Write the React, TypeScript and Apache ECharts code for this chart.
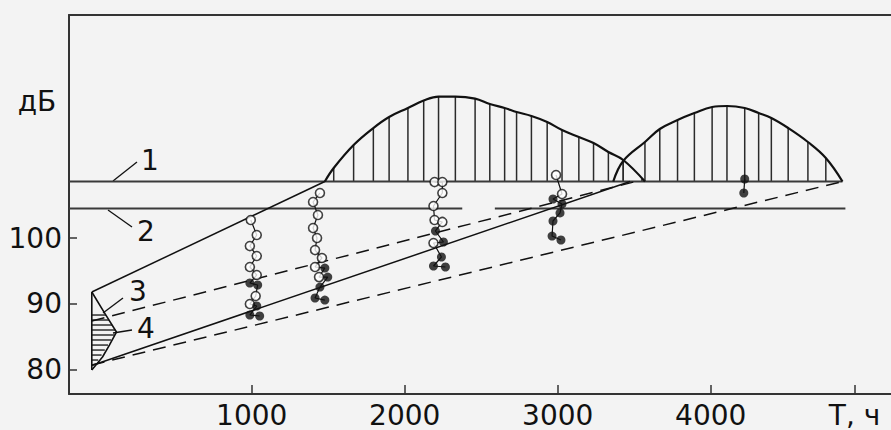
import React, { useEffect, useRef } from "react";
import * as echarts from "echarts";

// ---- axis ticks ----
const xTickValues = [1000, 2000, 3000, 4000, 4940];
const xTickLabels = ["1000", "2000", "3000", "4000", "T, ч"];
const yTickValues = [80, 90, 100];
const yTickLabels = ["80", "90", "100"];

// ---- horizontal levels (dB) : 1 and 2 ----
const level1 = 108.6;
const level2 = 104.5;
const level1Segments = [[-194, 4861]];
const level2Segments = [[-194, 2376], [2589, 4880]];

// ---- humps (T, dB) ----
const hump1 = [
  [1478, 108.6], [1536, 110.65], [1666, 114.15], [1795, 116.74], [1898, 118.42],
  [2021, 119.79], [2124, 120.92], [2221, 121.53], [2331, 121.53], [2460, 121.22],
  [2556, 120.39], [2653, 119.79], [2731, 119.18], [2828, 118.57], [2931, 117.66],
  [3028, 116.44], [3138, 115.37], [3234, 114.46], [3331, 113.09], [3428, 111.87],
  [3570, 108.6],
];
const hump2 = [
  [3363, 108.6], [3428, 111.72], [3570, 114.61], [3667, 116.59], [3783, 117.96],
  [3893, 119.02], [4009, 119.94], [4106, 120.09], [4222, 119.79], [4313, 119.02],
  [4396, 118.26], [4506, 116.74], [4635, 114.61], [4752, 112.18], [4861, 108.6],
];

// ---- sloped trend lines ----
const lineUpperSolid = [[-45, 91.78], [1478, 108.6]];
const lineLowerSolid = [[-45, 80.6], [3473, 108.6]];
const lineUpperDashed = [[-45, 87.37], [3560, 108.9]];
const lineLowerDashed = [[-45, 80.67], [4861, 108.6]];

// ---- initial distribution (3, 4) ----
const distOutline = [
  [-45, 91.78], [39, 88.58], [116, 85.69], [70, 83.71], [25, 81.89], [-45, 79.91],
];
const distEdge = [[-45, 79.91], [-45, 91.78]];
const distHatchV = [88.28, 87.52, 86.76, 86.0, 85.24, 84.48, 83.71, 82.95, 82.19, 81.43];
const distHatchRight = [48, 68, 88, 108, 103, 82, 61, 40, 19, -3];

// ---- measured points: open / filled circles ----
const col1Open = [[994, 102.74], [1033, 100.46], [988, 98.78], [1033, 97.26], [988, 95.59], [1033, 94.37], [1026, 91.17], [988, 89.96]];
const col1Filled = [[988, 93.15], [1039, 92.85], [1033, 89.65], [988, 88.28], [1052, 88.13]];
const col2Open = [[1446, 106.85], [1401, 105.48], [1433, 103.5], [1401, 101.52], [1427, 100.0], [1414, 98.17], [1459, 96.96], [1414, 95.59], [1440, 94.06]];
const col2Filled = [[1478, 95.43], [1497, 94.06], [1446, 92.54], [1414, 90.87], [1478, 90.56]];
const col3Open = [[2195, 108.52], [2246, 108.52], [2246, 106.85], [2188, 104.87], [2195, 102.74], [2246, 102.44], [2188, 99.24]];
const col3Filled = [[2201, 101.07], [2253, 99.39], [2240, 97.11], [2188, 95.74], [2266, 95.59]];
const col4Open = [[2989, 109.59], [3028, 106.7]];
const col4Filled = [[2969, 105.94], [3028, 105.18], [3015, 103.81], [2969, 102.59], [2963, 100.3], [3021, 99.7]];
const col5Open: number[][] = [];
const col5Filled = [[4222, 108.98], [4216, 106.85]];

const columns = [
  [col1Open, col1Filled],
  [col2Open, col2Filled],
  [col3Open, col3Filled],
  [col4Open, col4Filled],
  [col5Open, col5Filled],
];

const FONT = "'DejaVu Sans', 'Liberation Sans', Arial, sans-serif";
const INK = "#111";

export default function App() {
  const ref = useRef<HTMLDivElement>(null);

  useEffect(() => {
    if (!ref.current) return;
    const chart = echarts.init(ref.current, undefined, { renderer: "svg" });

    const lineSeries = (data: number[][], dashed: boolean, width = 1.5, z = 3) => ({
      type: "line",
      data,
      showSymbol: false,
      symbol: "none",
      silent: true,
      z,
      lineStyle: { color: INK, width, type: dashed ? [13, 8] : "solid" },
    });

    const hatchSeries = (hump: number[][]) => ({
      type: "custom",
      silent: true,
      z: 2,
      data: hump.slice(1, -1).map((p) => [p[0], p[1], level1]),
      renderItem: (_p: any, api: any) => {
        const a = api.coord([api.value(0), api.value(1)]);
        const b = api.coord([api.value(0), api.value(2)]);
        return {
          type: "line",
          shape: { x1: a[0], y1: a[1], x2: b[0], y2: b[1] },
          style: { stroke: "#2a2a2a", lineWidth: 1.5 },
        };
      },
    });

    const levelSeries = (segs: number[][], level: number) =>
      segs.map((s) => ({
        type: "line",
        data: [[s[0], level], [s[1], level]],
        showSymbol: false,
        symbol: "none",
        silent: true,
        z: 2,
        lineStyle: { color: "#3a3a3a", width: 2 },
      }));

    const chainSeries: any[] = [];
    const openSeries: any[] = [];
    const filledSeries: any[] = [];
    columns.forEach(([op, fi]) => {
      const all = [...op, ...fi].sort((a, b) => b[1] - a[1]);
      chainSeries.push({
        type: "line",
        data: all,
        showSymbol: false,
        symbol: "none",
        silent: true,
        z: 4,
        lineStyle: { color: INK, width: 1.2 },
      });
      openSeries.push({
        type: "scatter",
        data: op,
        symbol: "circle",
        symbolSize: 9,
        silent: true,
        z: 5,
        itemStyle: { color: "#fff", borderColor: INK, borderWidth: 1.6 },
      });
      filledSeries.push({
        type: "scatter",
        data: fi,
        symbol: "circle",
        symbolSize: 9,
        silent: true,
        z: 6,
        itemStyle: { color: INK },
      });
    });

    const distHatch = {
      type: "custom",
      silent: true,
      z: 3,
      data: distHatchV.map((v, i) => [v, distHatchRight[i]]),
      renderItem: (_p: any, api: any) => {
        const a = api.coord([-45, api.value(0)]);
        const b = api.coord([api.value(1), api.value(0)]);
        return {
          type: "line",
          shape: { x1: a[0], y1: a[1], x2: b[0], y2: b[1] },
          style: { stroke: INK, lineWidth: 1.3 },
        };
      },
    };

    const textStyle = (text: string) => ({
      text,
      font: `28px ${FONT}`,
      fill: INK,
      textAlign: "center",
      textVerticalAlign: "middle",
    });

    const option: any = {
      animation: false,
      backgroundColor: "#f3f3f3",
      grid: { left: 69, top: 15, right: -10, bottom: 36, containLabel: false },
      xAxis: [
        {
          type: "value",
          min: -194,
          max: 5178,
          axisLine: { show: true, onZero: false, lineStyle: { color: "#333", width: 2 } },
          axisTick: {
            show: true,
            inside: true,
            length: 9,
            customValues: xTickValues,
            lineStyle: { color: "#333", width: 1.5 },
          },
          axisLabel: {
            customValues: xTickValues,
            formatter: (v: number) => {
              const i = xTickValues.indexOf(v);
              return i >= 0 ? xTickLabels[i] : "";
            },
            fontSize: 28,
            fontFamily: FONT,
            color: INK,
            margin: 7,
          },
          splitLine: { show: false },
        },
        {
          type: "value",
          position: "top",
          min: -194,
          max: 5178,
          axisLine: { show: true, onZero: false, lineStyle: { color: "#333", width: 2 } },
          axisTick: { show: false },
          axisLabel: { show: false },
          splitLine: { show: false },
        },
      ],
      yAxis: {
        type: "value",
        min: 76.26,
        max: 133.94,
        axisLine: { show: true, onZero: false, lineStyle: { color: "#333", width: 2 } },
        axisTick: {
          show: true,
          inside: true,
          length: 8,
          customValues: yTickValues,
          lineStyle: { color: "#333", width: 1.5 },
        },
        axisLabel: {
          customValues: yTickValues,
          formatter: (v: number) => {
            const i = yTickValues.indexOf(v);
            return i >= 0 ? yTickLabels[i] : "";
          },
          fontSize: 28,
          fontFamily: FONT,
          color: INK,
          margin: 7,
        },
        splitLine: { show: false },
      },
      graphic: [
        { type: "text", x: 37, y: 101, style: textStyle("дБ") },
        { type: "text", x: 150, y: 160, style: textStyle("1") },
        { type: "text", x: 146, y: 231, style: textStyle("2") },
        { type: "text", x: 138, y: 291, style: textStyle("3") },
        { type: "text", x: 146, y: 328, style: textStyle("4") },
        { type: "line", shape: { x1: 113, y1: 181, x2: 137, y2: 162 }, style: { stroke: INK, lineWidth: 1.3 } },
        { type: "line", shape: { x1: 108, y1: 210, x2: 132, y2: 227 }, style: { stroke: INK, lineWidth: 1.3 } },
        { type: "line", shape: { x1: 103, y1: 313, x2: 123, y2: 298 }, style: { stroke: INK, lineWidth: 1.3 } },
        { type: "line", shape: { x1: 113, y1: 333, x2: 132, y2: 330 }, style: { stroke: INK, lineWidth: 1.3 } },
      ],
      series: [
        ...levelSeries(level1Segments, level1),
        ...levelSeries(level2Segments, level2),
        { ...lineSeries(hump1, false, 2.2, 3), smooth: 0.4 },
        { ...lineSeries(hump2, false, 2.2, 3), smooth: 0.4 },
        hatchSeries(hump1),
        hatchSeries(hump2),
        lineSeries(lineUpperSolid, false),
        lineSeries(lineLowerSolid, false),
        lineSeries(lineUpperDashed, true),
        lineSeries(lineLowerDashed, true),
        lineSeries(distOutline, false, 1.6),
        lineSeries(distEdge, false, 1.6),
        distHatch,
        ...chainSeries,
        ...openSeries,
        ...filledSeries,
      ],
    };

    chart.setOption(option);
    return () => chart.dispose();
  }, []);

  return (
    <div
      ref={ref}
      style={{ position: "fixed", left: 0, top: 0, width: 891, height: 430 }}
    />
  );
}
